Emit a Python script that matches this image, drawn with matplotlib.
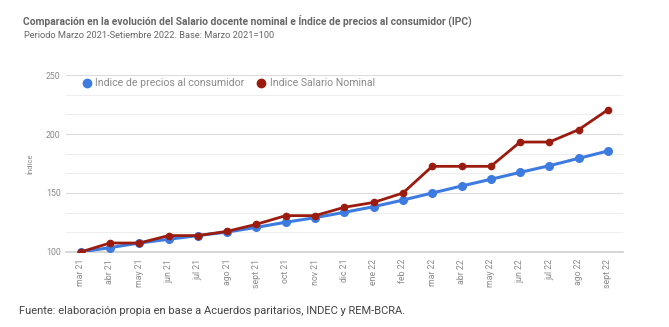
import matplotlib
matplotlib.use("Agg")
import matplotlib.pyplot as plt
from matplotlib.lines import Line2D
from matplotlib.ticker import MultipleLocator

plt.rcParams['font.family'] = ['Roboto', 'DejaVu Sans']

meses = ["mar 21", "abr 21", "may 21", "jun 21", "jul 21", "ago 21", "sept 21", "oct 21",
         "nov 21", "dic 21", "ene 22", "feb 22", "mar 22", "abr 22", "may 22", "jun 22",
         "jul 22", "ago 22", "sept 22"]
ipc = [100, 103.7, 107.6, 110.8, 113.9, 116.9, 120.9, 125.2, 129.1, 133.6, 138.4, 144.0,
       150.0, 155.9, 161.6, 167.5, 173.1, 179.4, 185.6]
salario = [100, 107.6, 107.6, 113.9, 113.9, 117.5, 123.5, 130.8, 130.8, 137.9, 142.0, 150.0,
           172.6, 172.6, 172.6, 193.2, 193.2, 203.7, 220.6]

blue = "#3d7be0"
red = "#9b1c0e"

fig = plt.figure(figsize=(6.69, 3.27), dpi=100)
ax = fig.add_axes([0.0987, 0.2294, 0.832, 0.5412])

x = list(range(len(meses)))
ax.plot(x, ipc, color=blue, lw=2.2, marker="o", ms=5.5, zorder=3)
ax.plot(x, salario, color=red, lw=2.0, marker="o", ms=4.5, zorder=4)

ax.set_xlim(-0.5, len(meses) - 0.5)
ax.set_ylim(100, 250)
ax.yaxis.set_major_locator(MultipleLocator(50))
ax.yaxis.set_minor_locator(MultipleLocator(50 / 3))
ax.grid(axis="y", which="major", color="#dcdcdc", lw=0.8)
ax.grid(axis="y", which="minor", color="#eeeeee", lw=0.8)
ax.set_axisbelow(True)
for s in ["top", "right", "left"]:
    ax.spines[s].set_visible(False)
ax.spines["bottom"].set_color("#d0d0d0")
ax.spines["bottom"].set_linewidth(1.2)
ax.tick_params(axis="both", which="both", length=0)
ax.set_xticks(x)
ax.set_xticklabels(meses, rotation=90, fontsize=6.3, color="#8a8a8a")
ax.tick_params(axis="x", pad=5)
ax.tick_params(axis="y", labelsize=6.3, labelcolor="#8a8a8a", pad=4)
ax.set_ylabel("Índice", fontsize=5.5, color="#8a8a8a", labelpad=9)

handles = [Line2D([], [], ls="none", marker="o", ms=6, color=blue),
           Line2D([], [], ls="none", marker="o", ms=6, color=red)]
fig.legend(handles, ["Indice de precios al consumidor", "Indice Salario Nominal"],
           loc="center left", bbox_to_anchor=(0.106, 0.745), ncol=2, frameon=False,
           fontsize=7.6, labelcolor="#8a8a8a", handletextpad=0.2, columnspacing=1.0,
           handlelength=1.2)

fig.text(0.035, 0.937, "Comparación en la evolución del Salario docente nominal e Índice de precios al consumidor (IPC)",
         fontsize=7.4, fontweight="bold", color="#666666", va="center", ha="left")
fig.text(0.036, 0.891, "Periodo Marzo 2021-Setiembre 2022. Base: Marzo 2021=100",
         fontsize=6.7, color="#666666", va="center", ha="left")
fig.text(0.028, 0.048, "Fuente: elaboración propia en base a Acuerdos paritarios, INDEC y REM-BCRA.",
         fontsize=8.0, color="#444444", va="center", ha="left")

fig.savefig("out.png", dpi=100, facecolor="white")
